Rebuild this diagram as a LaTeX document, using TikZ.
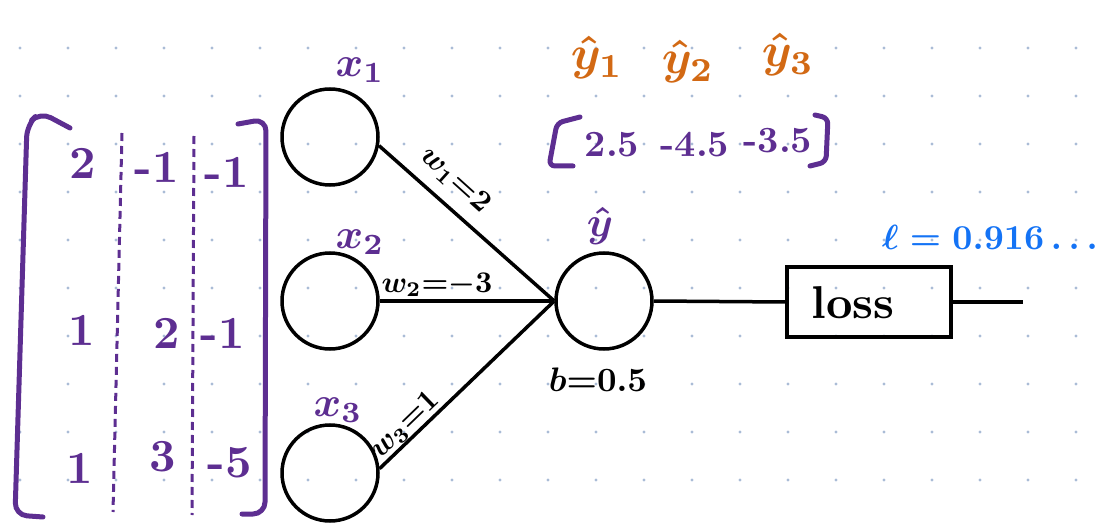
\documentclass[tikz,border=0pt]{standalone}
\definecolor{mpurple}{RGB}{93,46,145}
\definecolor{morange}{RGB}{210,105,20}
\definecolor{mblue}{RGB}{20,115,245}
\definecolor{mdot}{RGB}{170,188,214}
\tikzset{
  neuron/.style={circle, draw, line width=3.5pt, minimum size=96pt, inner sep=0pt},
  conn/.style={line width=3.5pt},
  lossbox/.style={draw, line width=3.5pt, minimum width=164pt, minimum height=70pt, inner sep=0pt},
  brk/.style={draw=mpurple, line width=5pt, line cap=round, line join=round, rounded corners=6pt},
  sep/.style={draw=mpurple, line width=3pt, dash pattern=on 8pt off 5pt},
  hand/.style={inner sep=0pt, font=\bfseries\boldmath},
  mentry/.style={hand, text=mpurple, scale=4.6},
  ventry/.style={hand, text=mpurple, scale=3.7},
  xlbl/.style={hand, text=mpurple, scale=4.2},
  ylbl/.style={hand, text=morange, scale=4.8},
  wlbl/.style={hand, scale=3.0},
  blbl/.style={hand, scale=3.4},
  llbl/.style={hand, text=mblue, scale=3.5},
  losslbl/.style={hand, scale=4.6},
}
\begin{document}
\begin{tikzpicture}[x=1pt,y=1pt]
\useasboundingbox (0,0) rectangle (1112,-524);
% dot grid
\foreach \i in {0,...,22}{\foreach \j in {1,...,10}{\fill[mdot] (20+48*\i,-48*\j) circle (1.6);}}

% neurons
\node[neuron] (x1) at (330,-137) {};
\node[neuron] (x2) at (330,-301) {};
\node[neuron] (x3) at (330,-473) {};
\node[neuron] (yh) at (604,-301) {};
\node[lossbox] (loss) at (869,-302) {};
\node[losslbl] (losstxt) at (853,-303) {loss};
\coordinate (out) at (1023,-302);

% connectors
\draw[conn] (x1.-10) -- (yh.west);
\draw[conn] (x2.east) -- (yh.west);
\draw[conn] (x3.5) -- (yh.west);
\draw[conn] (yh.east) -- (loss.west);
\draw[conn] (loss.east) -- (out);

% labels
\node[xlbl] (lx1) at (360,-70) {$x_1$};
\node[xlbl] (lx2) at (360,-242) {$x_2$};
\node[xlbl] (lx3) at (338,-410) {$x_3$};
\node[xlbl] (lyh) at (600,-226) {$\hat{y}$};
\node[blbl] (lb) at (598,-380) {$b{=}0.5$};
\node[wlbl, rotate=-42] (lw1) at (455,-180) {$w_1{=}2$};
\node[wlbl] (lw2) at (437,-285) {$w_2{=}{-}3$};
\node[wlbl, rotate=44] (lw3) at (405,-425) {$w_3{=}1$};
\node[llbl] (lell) at (990,-237) {$\ell = 0.916\ldots$};

% predictions
\node[ylbl] (py1) at (597,-58) {$\hat{y}_1$};
\node[ylbl] (py2) at (688,-62) {$\hat{y}_2$};
\node[ylbl] (py3) at (788,-55) {$\hat{y}_3$};
\node[ventry] (v1) at (612,-145) {2.5};
\node[ventry] (v2) at (695,-145) {-4.5};
\node[ventry] (v3) at (778,-141) {-3.5};
\draw[brk] (580,-117) -- (557,-123) -- (549,-166) -- (573,-166);
\draw[brk] (815,-115) -- (828,-118) -- (826,-162) -- (810,-166);

% input matrix
\draw[brk, rounded corners=12pt] (70,-128) -- (40,-112) -- (27,-125) -- (15,-515) -- (43,-517);
\draw[brk, rounded corners=12pt] (238,-124) -- (266,-119) -- (265,-514) -- (242,-514);
\draw[sep] (122,-133) -- (113,-512);
\draw[sep] (194,-136) -- (192,-515);
\node[mentry] (m11) at (83,-163) {2};
\node[mentry] (m12) at (157,-167) {-1};
\node[mentry] (m13) at (227,-172) {-1};
\node[mentry] (m21) at (82,-330) {1};
\node[mentry] (m22) at (167,-333) {2};
\node[mentry] (m23) at (223,-333) {-1};
\node[mentry] (m31) at (80,-468) {1};
\node[mentry] (m32) at (163,-457) {3};
\node[mentry] (m33) at (230,-463) {-5};
\end{tikzpicture}
\end{document}
